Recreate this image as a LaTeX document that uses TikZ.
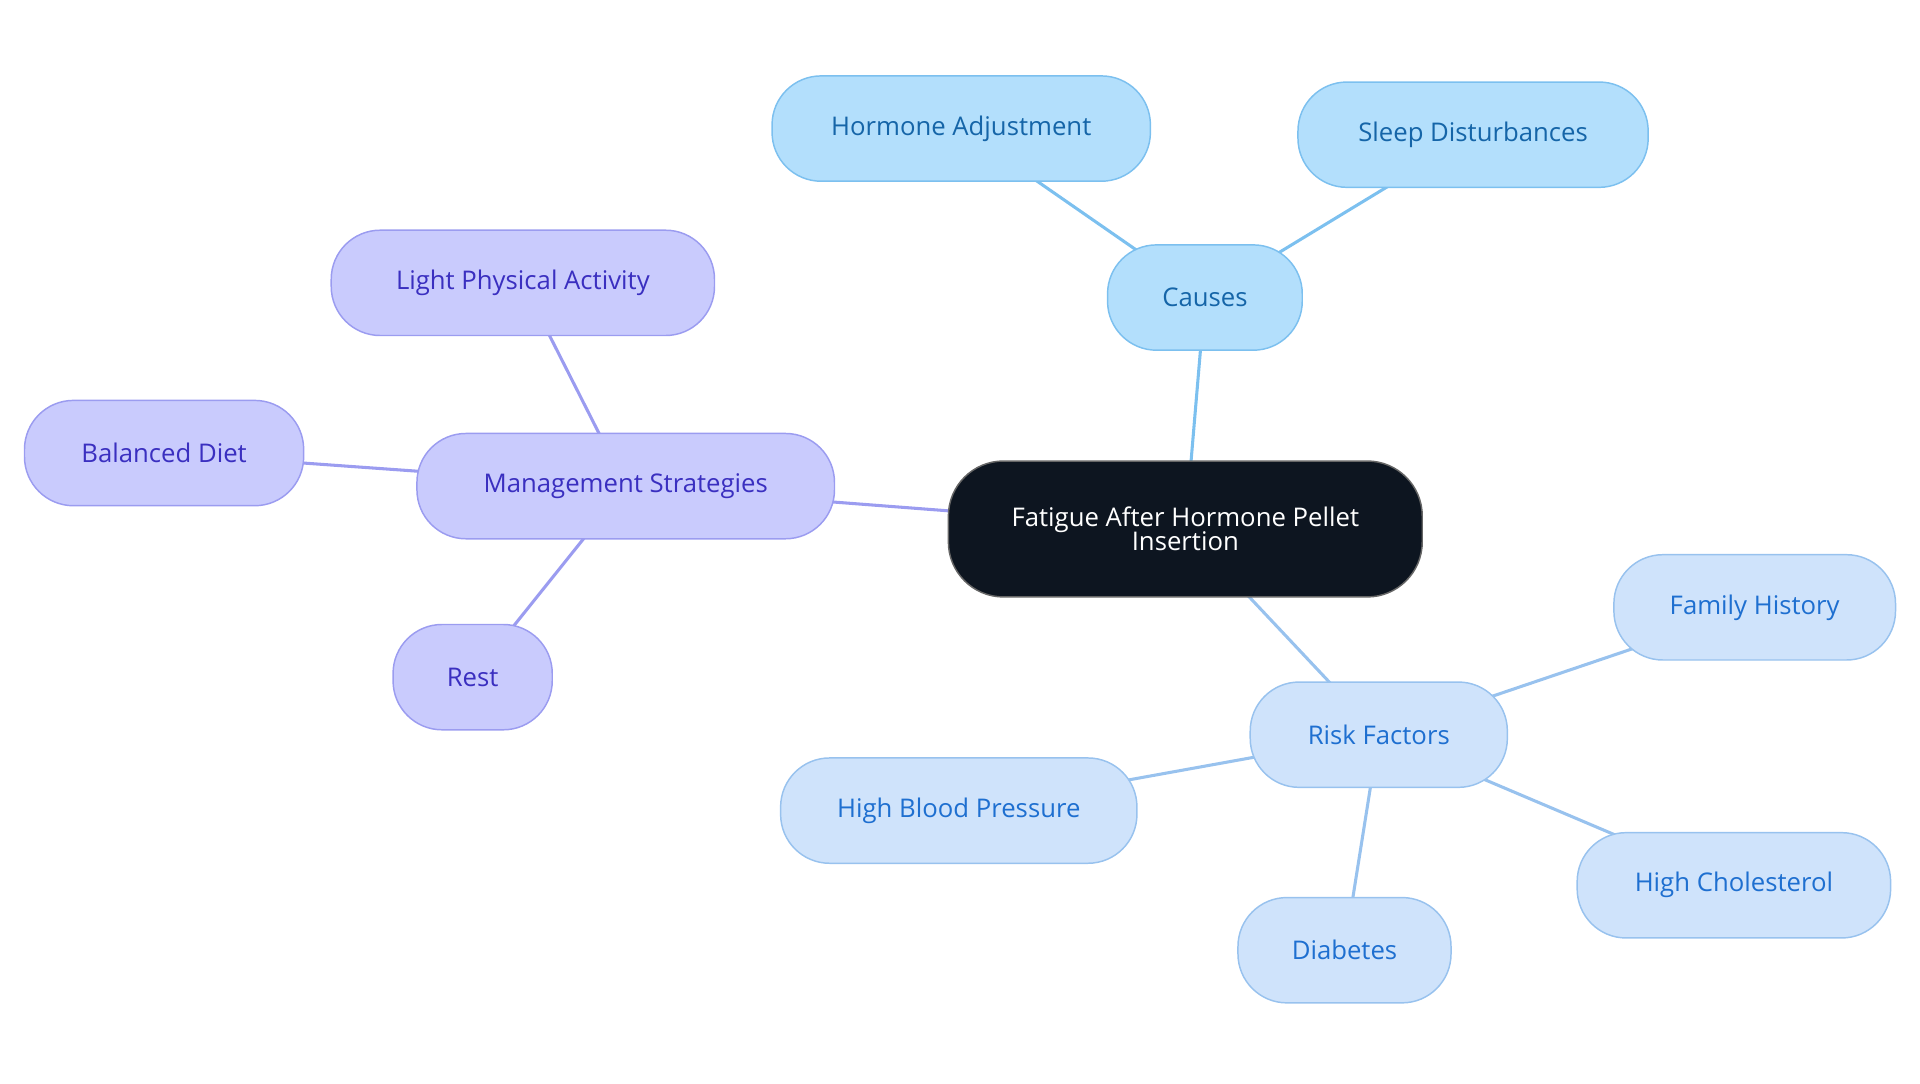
\documentclass[tikz,border=0pt]{standalone}
\usepackage{fontspec}
\setmainfont{Open Sans}
\begin{document}
\begin{tikzpicture}[x=1pt,y=-1pt,
 base/.style={rounded corners=40pt,minimum height=86pt,line width=1.2pt,font=\fontsize{21}{24}\selectfont,align=center},
 root/.style={base,fill=black!90!blue!60!black,fill=rgb:red,13;green,21;blue,32,draw=black!70,text=white},
 cz/.style={base,fill=cfill,draw=cdraw,text=ctext},
 mg/.style={base,fill=mfill,draw=mdraw,text=mtext},
 rk/.style={base,fill=rfill,draw=rdraw,text=rtext},
 cl/.style={line width=2.5pt,draw=cdraw},
 ml/.style={line width=2.5pt,draw=mdraw},
 rl/.style={line width=2.5pt,draw=rdraw}]
\definecolor{cfill}{HTML}{B3DFFC}\definecolor{cdraw}{HTML}{7CC0EF}\definecolor{ctext}{HTML}{1565A8}
\definecolor{mfill}{HTML}{C9CBFD}\definecolor{mdraw}{HTML}{9B9CF0}\definecolor{mtext}{HTML}{3A2FC0}
\definecolor{rfill}{HTML}{CFE3FB}\definecolor{rdraw}{HTML}{98C2EE}\definecolor{rtext}{HTML}{1E6FD0}
\definecolor{rootc}{HTML}{0D1520}
\useasboundingbox (0,0) rectangle (1568,885);
% connectors first
\coordinate (pc) at (968,432); \coordinate (pca) at (984,243); \coordinate (pm) at (511,397); \coordinate (pr) at (1126,600);
\draw[cl] (pc) -- (pca); \draw[cl] (pca) -- (785,105); \draw[cl] (pca) -- (1203,110);
\draw[ml] (pc) -- (pm); \draw[ml] (pm) -- (427,231); \draw[ml] (pm) -- (134,370); \draw[ml] (pm) -- (386,553);
\draw[rl] (pc) -- (pr); \draw[rl] (pr) -- (1433,496); \draw[rl] (pr) -- (783,662); \draw[rl] (pr) -- (1416,723); \draw[rl] (pr) -- (1098,776);
\node[base,fill=rootc,draw=black!60,text=white,minimum width=387pt,minimum height=111pt,rounded corners=45pt] (c) at (pc) {Fatigue After Hormone Pellet\\[-4pt]Insertion};
\node[cz,minimum width=159pt] (ca) at (pca) {Causes};
\node[cz,minimum width=309pt] (ha) at (785,105) {Hormone Adjustment};
\node[cz,minimum width=286pt] (sd) at (1203,110) {Sleep Disturbances};
\node[mg,minimum width=341pt] (m) at (pm) {Management Strategies};
\node[mg,minimum width=313pt] (lp) at (427,231) {Light Physical Activity};
\node[mg,minimum width=228pt] (bd) at (134,370) {Balanced Diet};
\node[mg,minimum width=130pt] (re) at (386,553) {Rest};
\node[rk,minimum width=210pt] (r) at (pr) {Risk Factors};
\node[rk,minimum width=230pt] (fh) at (1433,496) {Family History};
\node[rk,minimum width=291pt] (hb) at (783,662) {High Blood Pressure};
\node[rk,minimum width=256pt] (hc) at (1416,723) {High Cholesterol};
\node[rk,minimum width=174pt] (di) at (1098,776) {Diabetes};
\end{tikzpicture}
\end{document}
